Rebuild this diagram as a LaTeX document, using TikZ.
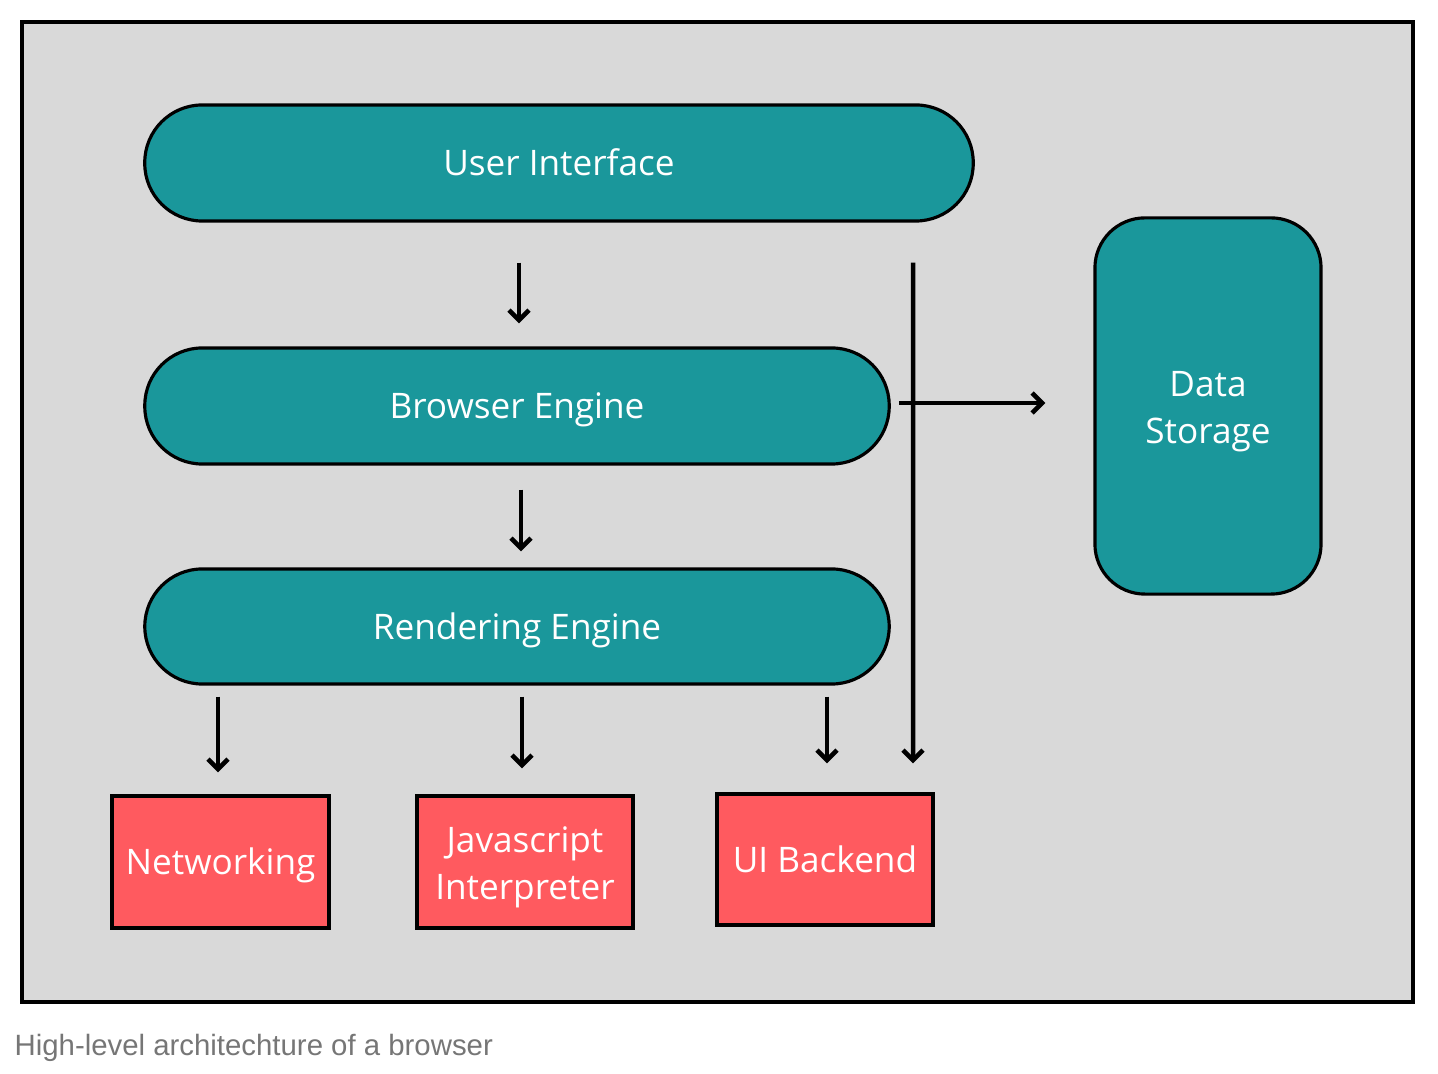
\documentclass[tikz,border=0pt]{standalone}
\usepackage{fontspec}
\setmainfont{Open Sans}
\newfontfamily\captionfont{Liberation Sans}
\usetikzlibrary{arrows.meta}
\definecolor{teal}{HTML}{1A979B}
\definecolor{coral}{HTML}{FF5A5F}
\definecolor{panel}{HTML}{D9D9D9}
\definecolor{caption}{HTML}{767676}
\tikzset{
    label text/.style={text=white,font=\fontsize{10}{13.4}\selectfont},
    one line/.style={text height=0.9em,text depth=0.186em},
    two lines/.style={align=center,text height=23.9pt},
    pill/.style={label text,one line,draw=black,line width=0.9pt,fill=teal,rounded corners=0.575cm,
        minimum height=1.16cm},
    store/.style={label text,two lines,draw=black,line width=0.9pt,fill=teal,rounded corners=0.5cm},
    part/.style={label text,draw=black,line width=0.9pt,fill=coral,inner sep=0pt},
    flow/.style={line width=1.3pt,-{Straight Barb[length=0.1cm,width=0.2cm,line width=1.3pt]}}
}
\begin{document}
\begin{tikzpicture}[x=0.01cm,y=-0.01cm]
                \useasboundingbox (0,0) rectangle (1438,1074);
                \draw[fill=panel,line width=0.9pt] (22,22) rectangle (1413,1002);
                % layers
                \node[pill,minimum width=8.28cm] (ui) at (559,163) {User Interface};
                \node[pill,minimum width=7.44cm] (engine) at (517,406) {Browser Engine};
                \node[pill,minimum width=7.44cm,minimum height=1.15cm] (render) at (517,626.5) {Rendering Engine};
                \node[store,minimum width=2.26cm,minimum height=3.76cm] (storage) at (1208,406) {Data\\Storage};
                % parts below the renderer
                \node[part,one line,minimum width=2.17cm,minimum height=1.32cm] (net) at (220.5,862) {Networking};
                \node[part,two lines,minimum width=2.16cm,minimum height=1.32cm] (js) at (525,862) {Javascript\\Interpreter};
                \node[part,one line,minimum width=2.16cm,minimum height=1.31cm] (backend) at (825,859.5) {UI Backend};
                % arrows
                \draw[flow,shorten <=0.4cm,shorten >=0.23cm] ([xshift=0.02cm]ui.south -| engine.north) -- ([xshift=0.02cm]engine.north);
                \draw[flow,shorten <=0.24cm,shorten >=0.16cm] ([xshift=0.04cm]engine.south) -- ([xshift=0.04cm]render.north);
                \draw[flow,shorten <=0.11cm,shorten >=0.22cm] ([xshift=-0.025cm]render.south -| net.north) -- ([xshift=-0.025cm]net.north);
                \draw[flow,shorten <=0.11cm,shorten >=0.26cm] ([xshift=-0.03cm]render.south -| js.north) -- ([xshift=-0.03cm]js.north);
                \draw[flow,shorten <=0.11cm,shorten >=0.29cm] ([xshift=0.02cm]render.south -| backend.north) -- ([xshift=0.02cm]backend.north);
                \draw[flow,shorten <=0.4cm,shorten >=0.29cm] ([xshift=3.54cm]ui.south) -- ([xshift=0.88cm]backend.north);
                \draw[flow,shorten <=0.08cm,shorten >=0.48cm] ([yshift=0.03cm]engine.east) -- ([yshift=0.03cm]storage.west |- engine.east);
                % caption
                \node[anchor=base west,inner sep=0pt,text=caption,font=\captionfont\fontsize{8.35}{10}\selectfont] (title) at (14,1056) {High-level architechture of a browser};
            \end{tikzpicture}
\end{document}
